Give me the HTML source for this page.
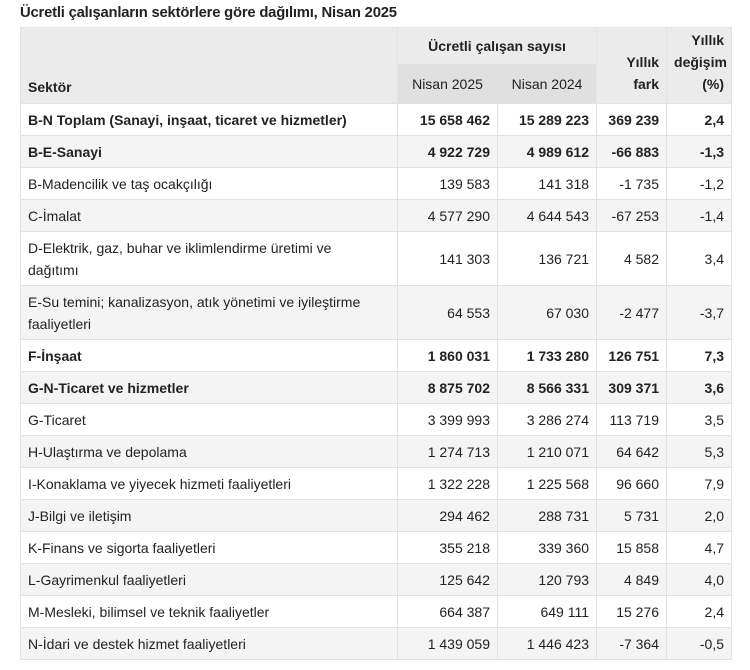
<!DOCTYPE html>
<html><head><meta charset="utf-8"><style>
body{margin:0;background:#fff;width:750px;height:670px;overflow:hidden;font-family:"Liberation Sans",sans-serif;color:#222}
.t{position:absolute;left:20px;top:5px;font-size:14.8px;font-weight:bold;letter-spacing:-0.2px}
table{position:absolute;left:20px;top:27px;border-collapse:collapse;font-size:14px;table-layout:fixed;width:711px}
td,th{border:1px solid #e2e2e2;padding:0 7px;height:31px;white-space:nowrap;overflow:hidden}
td.n,th.n{text-align:right}
th{background:#ebebeb;font-weight:bold;vertical-align:bottom}
th.s{background:#e0e0e0;font-weight:normal;text-align:center;vertical-align:middle;height:38px}
tr.g td{background:#f4f4f4}
tr.b td{font-weight:bold}
td.w{line-height:22px;height:53px}
</style></head><body>
<div class="t">Ücretli çalışanların sektörlere göre dağılımı, Nisan 2025</div>
<table>
<colgroup><col style="width:377px"><col style="width:100px"><col style="width:99px"><col style="width:70px"><col style="width:65px"></colgroup>
<tr><th rowspan="2" style="text-align:left;padding-bottom:8px">Sektör</th><th colspan="2" style="text-align:center;vertical-align:middle;height:36px">Ücretli çalışan sayısı</th><th rowspan="2" class="n" style="padding-bottom:8px;line-height:22px">Yıllık<br>fark</th><th rowspan="2" class="n" style="padding-bottom:8px;line-height:22px">Yıllık<br>değişim<br>(%)</th></tr>
<tr><th class="s">Nisan 2025</th><th class="s">Nisan 2024</th></tr>
<tr class="b"><td>B-N Toplam (Sanayi, inşaat, ticaret ve hizmetler)</td><td class="n">15 658 462</td><td class="n">15 289 223</td><td class="n">369 239</td><td class="n">2,4</td></tr>
<tr class="b g"><td>B-E-Sanayi</td><td class="n">4 922 729</td><td class="n">4 989 612</td><td class="n">-66 883</td><td class="n">-1,3</td></tr>
<tr><td>B-Madencilik ve taş ocakçılığı</td><td class="n">139 583</td><td class="n">141 318</td><td class="n">-1 735</td><td class="n">-1,2</td></tr>
<tr class="g"><td>C-İmalat</td><td class="n">4 577 290</td><td class="n">4 644 543</td><td class="n">-67 253</td><td class="n">-1,4</td></tr>
<tr><td class="w">D-Elektrik, gaz, buhar ve iklimlendirme üretimi ve<br>dağıtımı</td><td class="n">141 303</td><td class="n">136 721</td><td class="n">4 582</td><td class="n">3,4</td></tr>
<tr class="g"><td class="w">E-Su temini; kanalizasyon, atık yönetimi ve iyileştirme<br>faaliyetleri</td><td class="n">64 553</td><td class="n">67 030</td><td class="n">-2 477</td><td class="n">-3,7</td></tr>
<tr class="b"><td>F-İnşaat</td><td class="n">1 860 031</td><td class="n">1 733 280</td><td class="n">126 751</td><td class="n">7,3</td></tr>
<tr class="b g"><td>G-N-Ticaret ve hizmetler</td><td class="n">8 875 702</td><td class="n">8 566 331</td><td class="n">309 371</td><td class="n">3,6</td></tr>
<tr><td>G-Ticaret</td><td class="n">3 399 993</td><td class="n">3 286 274</td><td class="n">113 719</td><td class="n">3,5</td></tr>
<tr class="g"><td>H-Ulaştırma ve depolama</td><td class="n">1 274 713</td><td class="n">1 210 071</td><td class="n">64 642</td><td class="n">5,3</td></tr>
<tr><td>I-Konaklama ve yiyecek hizmeti faaliyetleri</td><td class="n">1 322 228</td><td class="n">1 225 568</td><td class="n">96 660</td><td class="n">7,9</td></tr>
<tr class="g"><td>J-Bilgi ve iletişim</td><td class="n">294 462</td><td class="n">288 731</td><td class="n">5 731</td><td class="n">2,0</td></tr>
<tr><td>K-Finans ve sigorta faaliyetleri</td><td class="n">355 218</td><td class="n">339 360</td><td class="n">15 858</td><td class="n">4,7</td></tr>
<tr class="g"><td>L-Gayrimenkul faaliyetleri</td><td class="n">125 642</td><td class="n">120 793</td><td class="n">4 849</td><td class="n">4,0</td></tr>
<tr><td>M-Mesleki, bilimsel ve teknik faaliyetler</td><td class="n">664 387</td><td class="n">649 111</td><td class="n">15 276</td><td class="n">2,4</td></tr>
<tr class="g"><td>N-İdari ve destek hizmet faaliyetleri</td><td class="n">1 439 059</td><td class="n">1 446 423</td><td class="n">-7 364</td><td class="n">-0,5</td></tr>
</table>
</body></html>
